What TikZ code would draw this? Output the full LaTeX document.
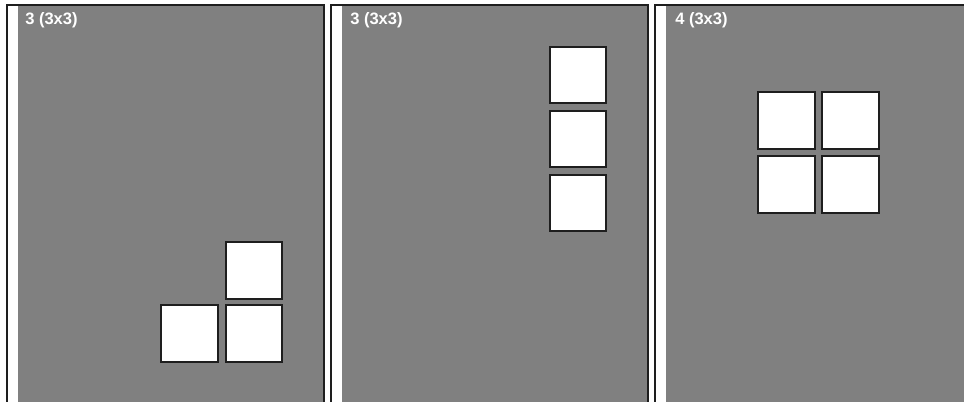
\documentclass[tikz,border=0pt]{standalone}
\usepackage{fontspec}
\setmainfont{Liberation Sans}
\definecolor{panelgray}{RGB}{128,128,128}
\definecolor{edge}{RGB}{30,30,30}
\begin{document}
\begin{tikzpicture}[x=0.75pt,y=-0.75pt,
  panelframe/.style={draw=edge,line width=1.2pt,fill=white},
  panelfill/.style={fill=panelgray},
  cell/.style={draw=edge,fill=white,line width=1.4pt,minimum size=42.5pt,inner sep=0pt},
  paneltitle/.style={text=white,font=\bfseries\fontsize{12.4pt}{14pt}\selectfont,anchor=base west,inner sep=0pt}]
\useasboundingbox (0,0) rectangle (964,402);
\clip (0,0) rectangle (964,402);
\fill[white] (0,0) rectangle (964,402);
\foreach \ox in {0,324,648}{
  \draw[panelframe] (\ox+7,5) rectangle (\ox+324,420);
  \fill[panelfill] (\ox+18,5.8) rectangle (\ox+323.2,420);
}
% panel 1
\node[paneltitle] (t1) at (25,25) {3 (3x3)};
\node[cell] (p1a) at (254,270.5) {};
\node[cell] (p1b) at (189.5,333.5) {};
\node[cell] (p1c) at (254,333.5) {};
% panel 2
\node[paneltitle] (t2) at (350,25) {3 (3x3)};
\node[cell] (p2a) at (578,75) {};
\node[cell] (p2b) at (578,139) {};
\node[cell] (p2c) at (578,203) {};
% panel 3
\node[paneltitle] (t3) at (675,25) {4 (3x3)};
\node[cell] (p3a) at (786.5,120.5) {};
\node[cell] (p3b) at (850.5,120.5) {};
\node[cell] (p3c) at (786.5,184.5) {};
\node[cell] (p3d) at (850.5,184.5) {};
\end{tikzpicture}
\end{document}
